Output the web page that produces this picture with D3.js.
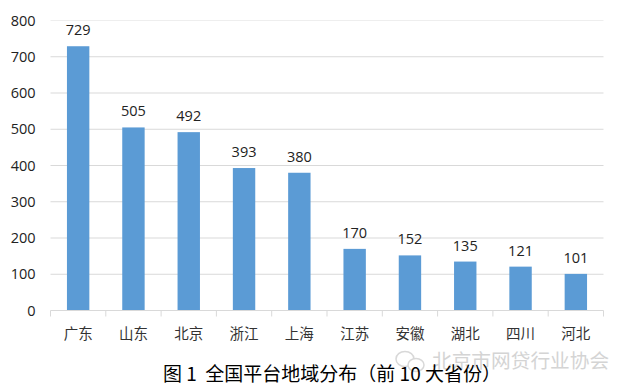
<!DOCTYPE html>
<html>
<head>
<meta charset="utf-8">
<script src="https://cdn.jsdelivr.net/npm/d3@7"></script>
<style>
html, body { margin: 0; padding: 0; background: #fff; }
svg { display: block; }
text { font-family: "Noto Sans CJK SC", "Noto Sans", sans-serif; }
</style>
</head>
<body>
<div id="chart"></div>
<script>
var provinces = ['广东', '山东', '北京', '浙江', '上海', '江苏', '安徽', '湖北', '四川', '河北'];
var counts = [729, 505, 492, 393, 380, 170, 152, 135, 121, 101];
var y_ticks = [0, 100, 200, 300, 400, 500, 600, 700, 800];

var width = 629, height = 392;
var left = 50.5, right = 603.5, top_y = 20.5, bottom = 310.5;

var svg = d3.select('#chart').append('svg')
    .attr('width', width)
    .attr('height', height);

var x = d3.scaleBand().domain(provinces).range([left, right]).paddingInner(0.595).paddingOuter(0.2975);
var x_ticks = d3.scaleBand().domain(provinces).range([left, right]);
var y = d3.scaleLinear().domain([0, 800]).range([bottom, top_y]);

// grid lines
svg.append('g').selectAll('line')
    .data(y_ticks.slice(1))
    .enter().append('line')
    .attr('x1', left).attr('x2', right)
    .attr('y1', function(d) { return y(d); })
    .attr('y2', function(d) { return y(d); })
    .attr('stroke', function(d) { return d == 800 ? '#eeeeee' : '#d9d9d9'; });

// y axis labels
var y_axis = d3.axisLeft(y).tickValues(y_ticks).tickSize(0).tickPadding(15);
var y_g = svg.append('g').attr('transform', 'translate(' + left + ',0)').call(y_axis);
y_g.select('.domain').remove();
y_g.selectAll('text')
    .attr('font-size', 14.5)
    .attr('fill', '#222')
    .style('font-family', '"Open Sans", sans-serif');

// bars
svg.append('g').selectAll('rect')
    .data(counts)
    .enter().append('rect')
    .attr('x', function(d, i) { return x(provinces[i]); })
    .attr('y', function(d) { return y(d); })
    .attr('width', x.bandwidth())
    .attr('height', function(d) { return y(0) - y(d); })
    .attr('fill', '#5b9bd5');

// x axis with ticks between the categories
svg.append('line')
    .attr('x1', left).attr('x2', right)
    .attr('y1', bottom).attr('y2', bottom)
    .attr('stroke', '#d9d9d9');
var tick_pos = provinces.map(function(p) { return x_ticks(p); }).concat([right]);
svg.append('g').selectAll('line')
    .data(tick_pos)
    .enter().append('line')
    .attr('x1', function(d) { return d; })
    .attr('x2', function(d) { return d; })
    .attr('y1', bottom).attr('y2', bottom + 6)
    .attr('stroke', '#d9d9d9');

svg.append('g').selectAll('text')
    .data(provinces)
    .enter().append('text')
    .attr('x', function(d) { return x(d) + x.bandwidth() / 2; })
    .attr('y', 339)
    .attr('text-anchor', 'middle')
    .attr('font-size', 14.5)
    .attr('fill', '#333')
    .text(function(d) { return d; });

// value labels
svg.append('g').selectAll('text')
    .data(counts)
    .enter().append('text')
    .attr('x', function(d, i) { return x(provinces[i]) + x.bandwidth() / 2; })
    .attr('y', function(d) { return y(d) - 11; })
    .attr('text-anchor', 'middle')
    .attr('font-size', 14.5)
    .attr('fill', '#222')
    .style('font-family', '"Open Sans", sans-serif')
    .text(function(d) { return d; });

// watermark
var mark = svg.append('g').attr('fill', 'none').attr('stroke', '#d8d8d8').attr('stroke-width', 1.5);
mark.append('ellipse').attr('cx', 405).attr('cy', 359).attr('rx', 9).attr('ry', 7.5);
mark.append('ellipse').attr('cx', 416).attr('cy', 365).attr('rx', 8).attr('ry', 6.5).attr('fill', '#fff');

svg.append('text')
    .attr('x', 432).attr('y', 368)
    .attr('font-size', 19.7)
    .attr('fill', '#d4d4d4')
    .text('北京市网贷行业协会');

// caption, drawn after the watermark so it stays on top
svg.append('text')
    .attr('x', 332).attr('y', 381)
    .attr('text-anchor', 'middle')
    .attr('font-size', 19)
    .attr('fill', '#000')
    .attr('xml:space', 'preserve')
    .text('图 1  全国平台地域分布（前 10 大省份）');
</script>
</body>
</html>
